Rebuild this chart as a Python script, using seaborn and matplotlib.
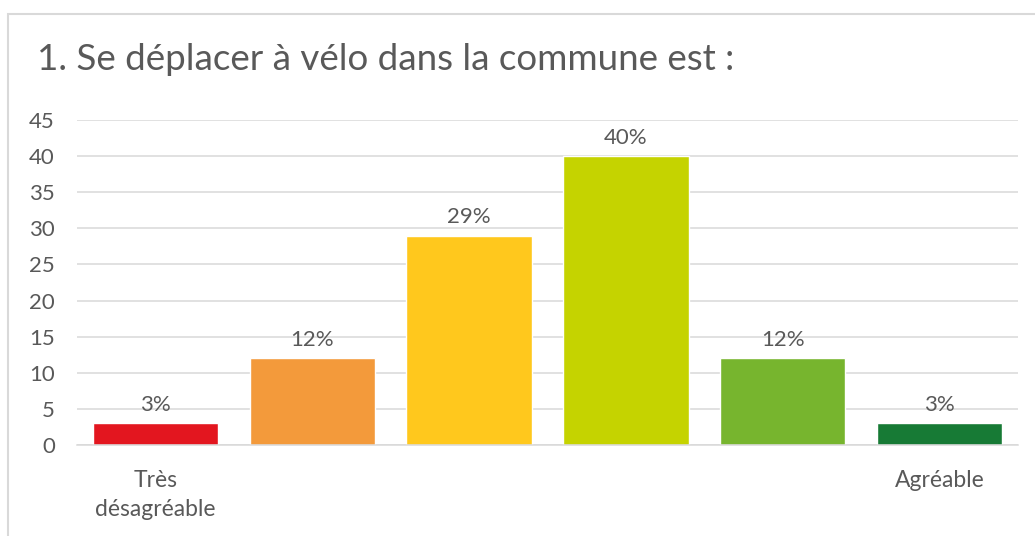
import matplotlib
matplotlib.use("Agg")
import matplotlib.pyplot as plt
import seaborn as sns
import pandas as pd
from matplotlib.patches import Rectangle

# Data
levels = [1, 2, 3, 4, 5, 6]
values = [3, 12, 29, 40, 12, 3]
tick_labels = ["Très\ndésagréable", "", "", "", "", "Agréable"]
bar_colors = ["#E3161F", "#F39A3B", "#FFC81D", "#C5D300", "#77B52E", "#177A35"]
title = "1. Se déplacer à vélo dans la commune est :"

df = pd.DataFrame({"level": levels, "value": values})

sns.set_theme(style="white")
plt.rcParams["font.family"] = ["Lato", "DejaVu Sans"]
text_gray = "#595959"

fig = plt.figure(figsize=(10.35, 5.36), dpi=100)
ax = fig.add_axes([77 / 1035, 1 - 445 / 536, (1018 - 77) / 1035, (445 - 120) / 536])

sns.barplot(data=df, x="level", y="value", hue="level", palette=bar_colors,
            legend=False, width=0.8, saturation=1, ax=ax)

for c in ax.containers:
    ax.bar_label(c, labels=[f"{v:.0f}%" for v in c.datavalues],
                 padding=6, fontsize=16, color=text_gray)

ax.set_xlim(-0.5, 5.5)
ax.set_ylim(0, 45)
ax.set_yticks(range(0, 46, 5))
ax.set_xticks(range(6))
ax.set_xticklabels(tick_labels, linespacing=1.45)
ax.set_xlabel("")
ax.set_ylabel("")
ax.yaxis.grid(True, color="#D9D9D9", linewidth=1.1)
ax.set_axisbelow(True)
for s in ["top", "right", "left"]:
    ax.spines[s].set_visible(False)
ax.spines["bottom"].set_color("#D9D9D9")
ax.spines["bottom"].set_linewidth(1.1)
ax.tick_params(axis="y", length=0, pad=16, labelsize=16, labelcolor=text_gray)
ax.tick_params(axis="x", length=0, pad=18, labelsize=16.5, labelcolor=text_gray)

fig.text(37 / 1035, 1 - 60 / 536, title, fontsize=26.5, color=text_gray,
         va="center", ha="left")

# outer chart frame
fig.patches.append(Rectangle((8 / 1035, -0.1), 1.1, 1.1 - 14 / 536,
                             transform=fig.transFigure, fill=False,
                             edgecolor="#D9D9D9", linewidth=1.5))

fig.savefig("out.png", dpi=100)
